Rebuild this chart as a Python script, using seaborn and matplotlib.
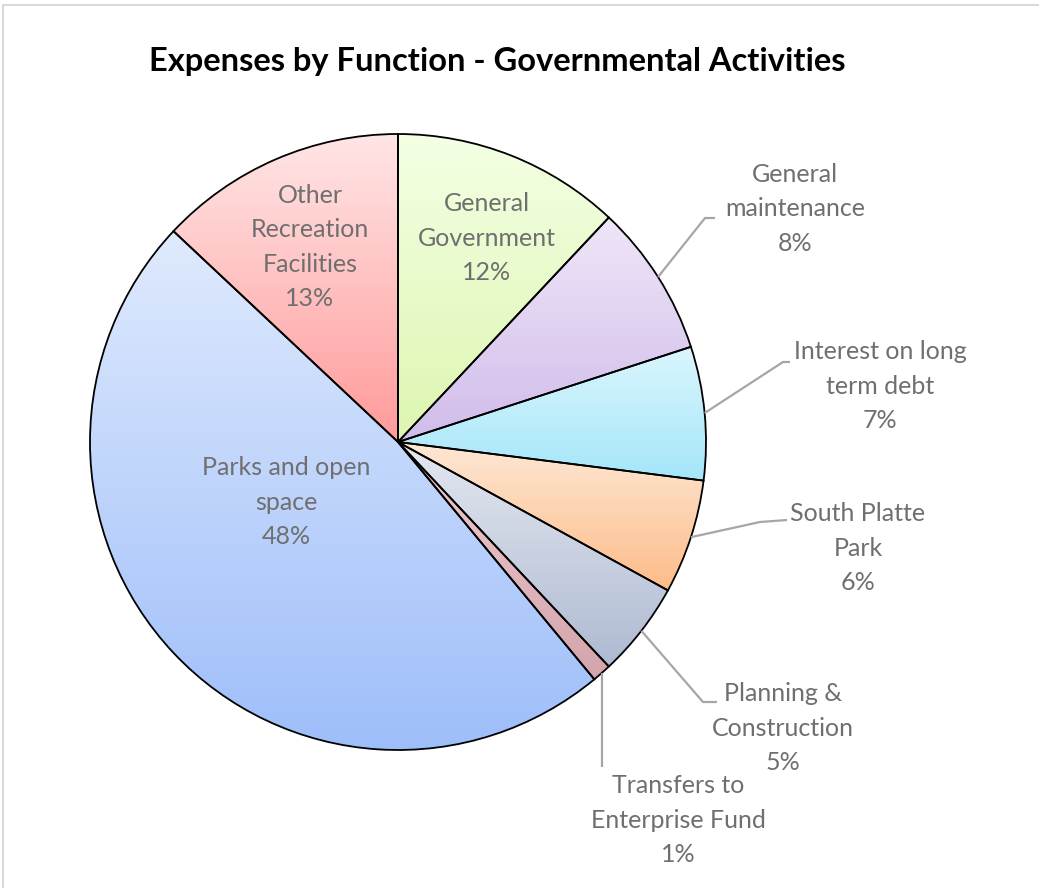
import numpy as np
import seaborn as sns
import matplotlib.pyplot as plt
from matplotlib.colors import LinearSegmentedColormap
from matplotlib.patches import Rectangle

categories = ['General\nGovernment', 'General\nmaintenance', 'Interest on long\nterm debt',
              'South Platte\nPark', 'Planning &\nConstruction', 'Transfers to\nEnterprise Fund',
              'Parks and open\nspace', 'Other\nRecreation\nFacilities']
shares = [12, 8, 7, 6, 5, 1, 48, 13]

# light (top) / dark (bottom) colours of each slice gradient
tops = ['#f4ffe4', '#efe6f8', '#daf6fd', '#fee8d6', '#e4e8f0', '#ecccd0', '#dfeafd', '#ffe6e6']
bottoms = ['#ddf6b0', '#d0bcea', '#a4e6fa', '#fdbc88', '#aebad2', '#d4a4ac', '#9ebefa', '#ff9a9a']

sns.set_style('white')
plt.rcParams['font.family'] = ['Lato', 'DejaVu Sans']

W, H = 1039, 888
CX, CY, R = 398, 442, 308


def px(x, y):
    return (x - CX) / R, (CY - y) / R


fig = plt.figure(figsize=(W / 100, H / 100), dpi=100)
ax = fig.add_axes([0, 0, 1, 1])
ax.set_axis_off()

wedges, _ = ax.pie(shares, startangle=90, counterclock=False, radius=1, center=(0, 0),
                   colors=tops, wedgeprops=dict(edgecolor='black', linewidth=1.3))

# vertical gradient fill per slice
grad = np.linspace(0, 1, 256).reshape(-1, 1)
for w, c0, c1 in zip(wedges, tops, bottoms):
    ext = w.get_path().get_extents()
    cmap = LinearSegmentedColormap.from_list('g', [c0, c1])
    im = ax.imshow(grad, cmap=cmap, aspect='auto', origin='upper',
                   extent=(ext.x0, ext.x1, ext.y0, ext.y1), zorder=0.5)
    im.set_clip_path(w)
    w.set_facecolor('none')
    w.set_zorder(1)

ax.set_xlim(-CX / R, (W - CX) / R)
ax.set_ylim(-(H - CY) / R, CY / R)

lab_color = '#6f6f6f'
line_color = '#a6a6a6'
fs = 18
ls = 1.6

# inside labels: centre in px
inside = {0: (487, 238), 6: (286, 502), 7: (310, 247)}
# outside labels: text centre px, elbow px, line end px
outside = {1: ((795, 209), (705, 218), (715, 218)),
           2: ((880, 386), (783, 362), (790, 362)),
           3: ((858, 548), (760, 522), (787, 520)),
           4: ((783, 728), (703, 702), (717, 702)),
           5: ((678, 820), (604, 767), (604, 767))}

for i, (name, val) in enumerate(zip(categories, shares)):
    txt = f'{name}\n{val}%'
    w = wedges[i]
    mid = np.deg2rad((w.theta1 + w.theta2) / 2)
    if i in inside:
        ax.text(*px(*inside[i]), txt, ha='center', va='center', fontsize=fs,
                color=lab_color, linespacing=ls, zorder=3)
    else:
        tpos, elbow, end = outside[i]
        ax0, ay0 = np.cos(mid), np.sin(mid)
        ex, ey = px(*elbow)
        fx, fy = px(*end)
        if i == 5:
            ex = fx = ax0
        ax.plot([ax0, ex, fx], [ay0, ey, fy],
                color=line_color, lw=1.6, zorder=2, solid_capstyle='butt')
        ax.text(*px(*tpos), txt, ha='center', va='center', fontsize=fs,
                color=lab_color, linespacing=ls, zorder=3)

fig.text(497 / W, 1 - 62 / H, 'Expenses by Function - Governmental Activities',
         ha='center', va='center', fontsize=23.5, fontweight='bold', color='black')

fig.patches.append(Rectangle((3 / W, -0.01), 1.02, 1 - 5 / H + 0.01, transform=fig.transFigure,
                             fill=False, edgecolor='#d9d9d9', linewidth=1.5))

fig.savefig('out.png', dpi=100)
